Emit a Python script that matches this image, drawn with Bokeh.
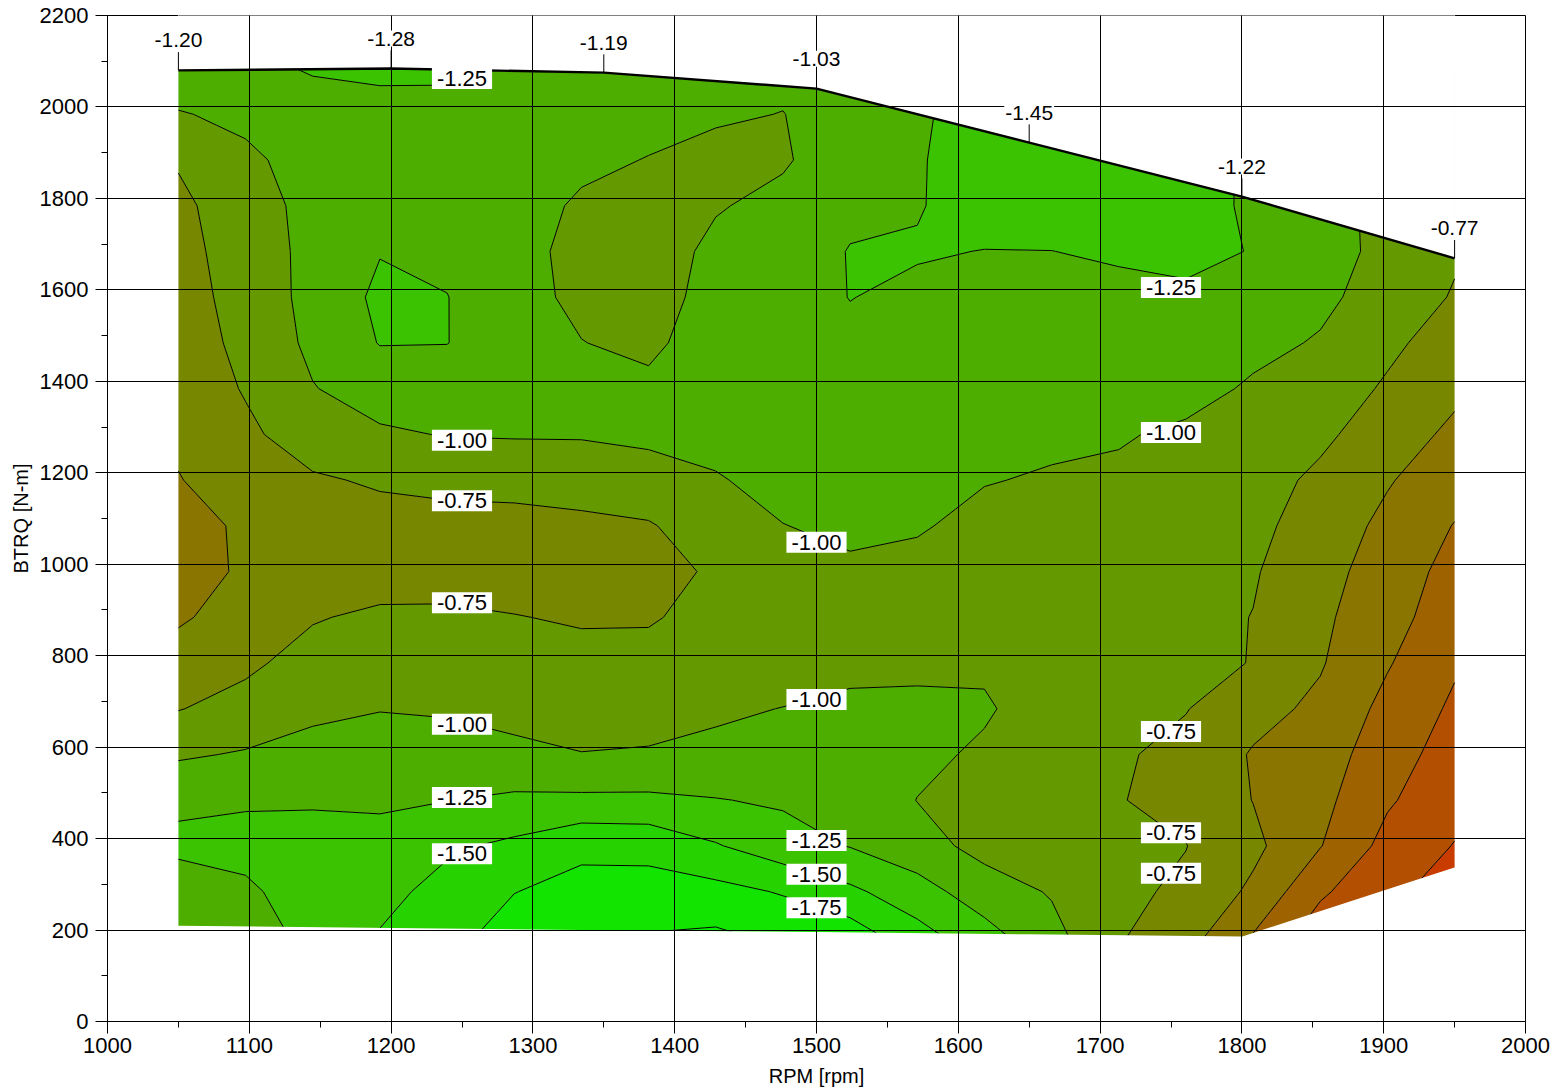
import numpy as np
from bokeh.plotting import figure
from bokeh.models import Range1d, SingleIntervalTicker, Label
from bokeh.embed import file_html
from bokeh.resources import INLINE

FONT = "Liberation Sans"

# ---- data grid (RPM columns, torque rows) ----
rpm_grid = [1050.0, 1097.4, 1144.7, 1192.1, 1239.5, 1286.8, 1334.2, 1381.6, 1428.9, 1476.3,
            1523.7, 1571.1, 1618.4, 1665.8, 1713.2, 1760.5, 1807.9, 1855.3, 1902.6, 1950.0]
trq_grid = [184, 284, 384, 484, 584, 684, 784, 884, 984, 1084,
            1184, 1284, 1384, 1484, 1584, 1684, 1784, 1884, 1984, 2084]

# z rows, bottom (184 N-m) to top (2084 N-m); 20 values per row (one per rpm column)
z_rows = [
    [-1.04, -1.12, -1.32, -1.52, -1.68, -1.85, -1.95, -2.02, -2.05, -1.95, -1.90, -1.60, -1.35, -1.08, -0.77, -0.60, -0.23, 0.15, 0.30, 0.45],
    [-1.08, -1.20, -1.39, -1.42, -1.59, -1.745, -1.82, -1.84, -1.83, -1.73, -1.55, -1.35, -1.12, -0.98, -0.80, -0.71, -0.45, -0.04, 0.20, 0.35],
    [-1.32, -1.34, -1.36, -1.32, -1.46, -1.55, -1.70, -1.68, -1.52, -1.35, -1.24, -1.10, -0.92, -0.92, -0.78, -0.755, -0.56, -0.26, 0.08, 0.26],
    [-1.19, -1.22, -1.22, -1.22, -1.245, -1.30, -1.30, -1.30, -1.26, -1.22, -1.19, -0.995, -0.90, -0.88, -0.76, -0.68, -0.495, -0.32, -0.03, 0.17],
    [-0.97, -1.02, -1.08, -1.13, -1.04, -1.03, -1.005, -1.02, -1.06, -1.12, -1.14, -1.06, -0.96, -0.86, -0.78, -0.68, -0.48, -0.38, -0.10, 0.10],
    [-0.74, -0.84, -0.95, -0.99, -0.99, -0.96, -0.92, -0.91, -0.96, -1.005, -1.04, -1.04, -1.03, -0.87, -0.80, -0.76, -0.58, -0.45, -0.18, 0.04],
    [-0.60, -0.70, -0.85, -0.90, -0.88, -0.86, -0.84, -0.82, -0.88, -0.88, -0.95, -0.96, -0.96, -0.87, -0.82, -0.79, -0.745, -0.52, -0.27, -0.03],
    [-0.47, -0.60, -0.73, -0.80, -0.80, -0.76, -0.72, -0.73, -0.82, -0.86, -0.90, -0.92, -0.92, -0.87, -0.84, -0.82, -0.745, -0.55, -0.33, -0.13],
    [-0.35, -0.55, -0.64, -0.62, -0.63, -0.62, -0.62, -0.62, -0.80, -0.90, -0.96, -0.94, -0.90, -0.88, -0.86, -0.85, -0.77, -0.59, -0.38, -0.17],
    [-0.38, -0.55, -0.65, -0.66, -0.66, -0.68, -0.70, -0.73, -0.88, -0.995, -1.05, -1.02, -0.94, -0.92, -0.90, -0.88, -0.81, -0.64, -0.44, -0.24],
    [-0.49, -0.62, -0.72, -0.78, -0.82, -0.82, -0.85, -0.90, -0.98, -1.08, -1.10, -1.06, -1.01, -0.98, -0.96, -0.92, -0.85, -0.70, -0.52, -0.35],
    [-0.54, -0.70, -0.88, -0.97, -1.01, -1.02, -1.02, -1.05, -1.08, -1.13, -1.14, -1.10, -1.06, -1.04, -1.02, -0.96, -0.90, -0.80, -0.62, -0.45],
    [-0.58, -0.77, -0.99, -1.10, -1.10, -1.08, -1.06, -1.05, -1.12, -1.16, -1.17, -1.13, -1.10, -1.09, -1.07, -1.08, -0.97, -0.88, -0.72, -0.55],
    [-0.61, -0.82, -1.05, -1.26, -1.255, -1.09, -1.005, -0.95, -1.12, -1.15, -1.20, -1.16, -1.14, -1.13, -1.12, -1.16, -1.06, -0.98, -0.80, -0.64],
    [-0.64, -0.85, -1.07, -1.30, -1.255, -1.08, -0.95, -0.88, -1.10, -1.14, -1.255, -1.20, -1.18, -1.18, -1.19, -1.23, -1.14, -1.05, -0.90, -0.73],
    [-0.66, -0.88, -1.06, -1.24, -1.20, -1.08, -0.93, -0.87, -1.06, -1.12, -1.26, -1.27, -1.245, -1.248, -1.28, -1.28, -1.245, -1.06, -0.96, -0.78],
    [-0.70, -0.88, -1.08, -1.20, -1.19, -1.12, -0.96, -0.90, -0.98, -1.07, -1.20, -1.235, -1.35, -1.35, -1.34, -1.30, -1.23, -1.08, -0.94, -0.81],
    [-0.77, -0.94, -1.12, -1.17, -1.17, -1.15, -1.06, -0.99, -0.93, -0.97, -1.16, -1.22, -1.42, -1.42, -1.38, -1.33, -1.22, -1.08, -0.96, -0.83],
    [-0.98, -1.07, -1.20, -1.20, -1.18, -1.18, -1.16, -1.09, -1.03, -0.995, -1.12, -1.20, -1.40, -1.42, -1.36, -1.32, -1.18, -1.07, -0.96, -0.84],
    [-1.20, -1.22, -1.26, -1.28, -1.29, -1.23, -1.20, -1.16, -1.11, -1.06, -1.08, -1.15, -1.35, -1.38, -1.32, -1.28, -1.12, -1.05, -0.95, -0.85],
]

levels = [-2.25, -2.0, -1.75, -1.5, -1.25, -1.0, -0.75, -0.5, -0.25, 0.0, 0.25, 0.5]
band_colors = ["#06EE00", "#12E400", "#26D300", "#3BC200", "#4DAE00", "#649A00",
               "#778800", "#8A7500", "#9E6200", "#B24F00", "#C83C00"]

# ---- measured envelope (full-load curve on top, bottom edge) ----
edge_rpm = [1050, 1200, 1350, 1500, 1650, 1800, 1950]
top_trq = [2080, 2084, 2075, 2040, 1922, 1804, 1669]
top_val = [-1.20, -1.28, -1.19, -1.03, -1.45, -1.22, -0.77]
bot_trq = [208, 203, 198, 194, 189, 184, 335]

# ---- contour labels ----
lab_rpm = [1250, 1250, 1250, 1250, 1250, 1250, 1250,
           1500, 1500, 1500, 1500, 1500,
           1750, 1750, 1750, 1750, 1750]
lab_trq = [2062, 1271, 1139, 916, 650, 490, 367,
           1048, 704, 396, 322, 249,
           1605, 1288, 634, 413, 324]
lab_val = [-1.25, -1.00, -0.75, -0.75, -1.00, -1.25, -1.50,
           -1.00, -1.00, -1.25, -1.50, -1.75,
           -1.25, -1.00, -0.75, -0.75, -0.75]

p = figure(width=1560, height=1091, output_backend="svg", toolbar_location=None,
           x_range=Range1d(1000, 2000), y_range=Range1d(0, 2200),
           min_border_left=107, min_border_right=35, min_border_top=15, min_border_bottom=70,
           background_fill_color="white", border_fill_color="white")
p.outline_line_color = "black"
p.outline_line_width = 1

z = np.array(z_rows, dtype=float)
p.contour(x=np.array(rpm_grid), y=np.array(trq_grid), z=z, levels=levels,
          fill_color=band_colors, line_color="black", line_width=1)

# white masks outside of the measured envelope
top_mask_x = edge_rpm + [edge_rpm[-1], edge_rpm[0]]
top_mask_y = top_trq + [2300, 2300]
p.patch(top_mask_x, top_mask_y, fill_color="white", line_color="white", line_width=1)
bot_mask_x = edge_rpm + [edge_rpm[-1], edge_rpm[0]]
bot_mask_y = bot_trq + [100, 100]
p.patch(bot_mask_x, bot_mask_y, fill_color="white", line_color="white", line_width=1.5)

# full-load line
p.line(edge_rpm, top_trq, line_color="black", line_width=2.4)
tick_len = 40
p.segment(x0=edge_rpm, y0=top_trq, x1=edge_rpm, y1=[t + tick_len for t in top_trq],
          line_color="black", line_width=1)
for r, t, v in zip(edge_rpm, top_trq, top_val):
    p.add_layout(Label(x=r, y=t, y_offset=30, text=f"{v:.2f}", text_align="center",
                       text_baseline="middle", text_font=FONT, text_font_size="21px",
                       text_color="black", background_fill_color="white", padding=1))

for r, t, v in zip(lab_rpm, lab_trq, lab_val):
    p.add_layout(Label(x=r, y=t, text=f"{v:.2f}", text_align="center",
                       text_baseline="middle", text_font=FONT, text_font_size="22px",
                       text_color="black", background_fill_color="white", padding=(5, 3)))

# axes
p.xaxis.ticker = SingleIntervalTicker(interval=100, num_minor_ticks=2)
p.yaxis.ticker = SingleIntervalTicker(interval=200, num_minor_ticks=2)
for ax in (p.xaxis, p.yaxis):
    ax.axis_line_color = "black"
    ax.major_tick_line_color = "black"
    ax.minor_tick_line_color = "black"
    ax.major_tick_in = 0
    ax.major_tick_out = 12
    ax.minor_tick_in = 0
    ax.minor_tick_out = 6
    ax.major_label_text_font = FONT
    ax.major_label_text_font_size = "22px"
    ax.major_label_text_color = "black"
    ax.axis_label_text_font = FONT
    ax.axis_label_text_font_size = "20px"
    ax.axis_label_text_font_style = "normal"
    ax.axis_label_text_color = "black"
p.xaxis.axis_label = "RPM [rpm]"
p.yaxis.axis_label = "BTRQ [N-m]"
p.xaxis.major_label_standoff = 4
p.xaxis.axis_label_standoff = 9
p.yaxis.major_label_standoff = 7
p.yaxis.axis_label_standoff = 5

for g in (p.xgrid, p.ygrid):
    g.grid_line_color = "black"
    g.grid_line_alpha = 1.0
    g.grid_line_width = 1
    g.level = "guide"

open("out.html", "w").write(file_html(p, INLINE))
